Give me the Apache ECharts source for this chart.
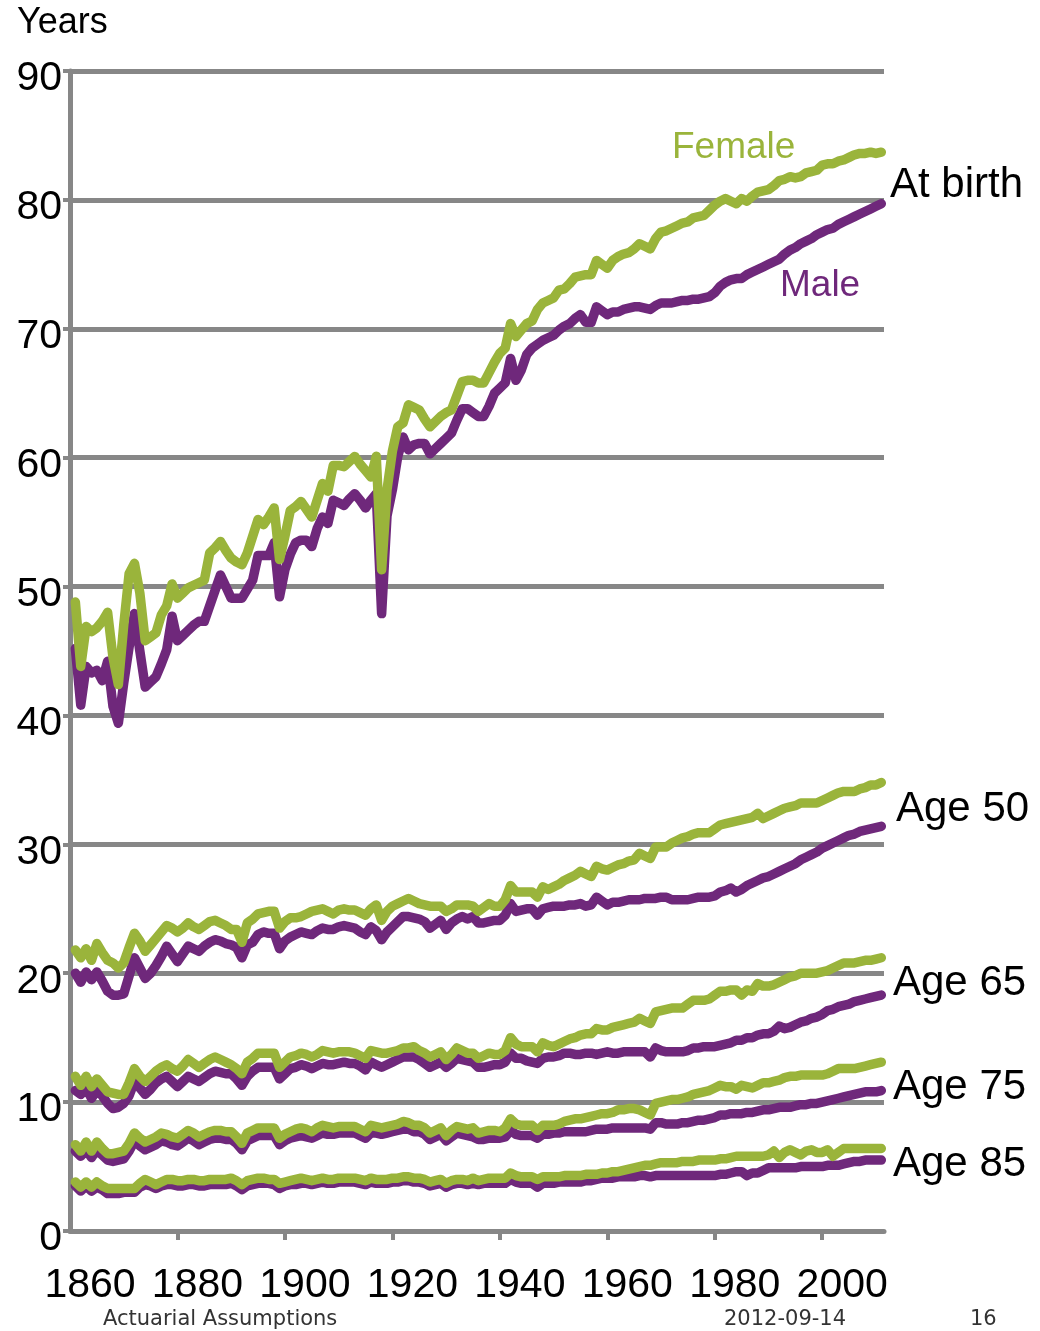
<!DOCTYPE html>
<html>
<head>
<meta charset="utf-8">
<script src="https://cdn.jsdelivr.net/npm/echarts@6/dist/echarts.min.js"></script>
<style>
  html, body { margin: 0; padding: 0; background: #ffffff; }
  #chart { width: 1040px; height: 1331px; }
</style>
</head>
<body>
<div id="chart"></div>
<script>
// Period life expectancy (remaining years), annual values 1861–2011.
const FIRST_YEAR = 1861;

const femaleAtBirth = [
  48.8, 43.8, 46.9, 46.5, 46.8, 47.3, 48.0, 44.5, 42.4, 47.0,
  51.0, 51.8, 49.5, 45.8, 46.1, 46.4, 47.8, 48.5, 50.2, 49.1,
  49.5, 49.9, 50.1, 50.3, 50.5, 52.6, 53.0, 53.5, 52.8, 52.2,
  51.9, 51.7, 52.6, 53.9, 55.2, 54.8, 55.4, 56.1, 52.1, 53.9,
  55.9, 56.2, 56.6, 56.0, 55.4, 56.7, 58.0, 57.4, 59.4, 59.4,
  59.3, 59.7, 60.1, 59.5, 59.0, 58.5, 60.1, 51.3, 57.5, 60.5,
  62.4, 62.7, 64.1, 63.9, 63.7, 63.0, 62.4, 62.8, 63.2, 63.5,
  63.7, 64.8, 65.9, 66.0, 66.0, 65.8, 65.8, 66.6, 67.4, 68.1,
  68.5, 70.4, 69.4, 69.9, 70.4, 70.6, 71.5, 72.0, 72.2, 72.4,
  73.0, 73.1, 73.5, 74.0, 74.1, 74.2, 74.2, 75.3, 75.0, 74.7,
  75.3, 75.6, 75.8, 75.9, 76.2, 76.6, 76.4, 76.2, 77.0, 77.5,
  77.6, 77.8, 78.0, 78.2, 78.3, 78.6, 78.7, 78.8, 79.2, 79.6,
  79.9, 80.1, 79.9, 79.7, 80.1, 79.9, 80.3, 80.6, 80.7, 80.8,
  81.1, 81.5, 81.6, 81.8, 81.7, 81.8, 82.1, 82.2, 82.3, 82.7,
  82.8, 82.8, 83.0, 83.1, 83.3, 83.5, 83.6, 83.6, 83.7, 83.6,
  83.7
];

const maleAtBirth = [
  45.2, 40.8, 43.8, 43.3, 43.5, 42.7, 44.2, 40.7, 39.4, 42.5,
  45.3, 47.9, 45.0, 42.2, 42.6, 43.0, 44.0, 45.1, 47.7, 45.8,
  46.2, 46.6, 47.0, 47.3, 47.3, 48.5, 49.7, 50.9, 50.0, 49.1,
  49.1, 49.1, 49.8, 50.5, 52.4, 52.4, 52.4, 53.4, 49.2, 51.3,
  52.5, 53.4, 53.6, 53.6, 53.1, 54.5, 55.4, 54.9, 56.7, 56.5,
  56.3, 56.8, 57.2, 56.7, 56.1, 56.7, 57.2, 47.9, 55.5, 57.5,
  60.1, 61.6, 60.6, 61.0, 61.1, 61.1, 60.3, 60.7, 61.1, 61.5,
  61.9, 62.9, 63.8, 63.8, 63.5, 63.2, 63.2, 64.0, 65.0, 65.4,
  65.8, 67.7, 66.0, 66.8, 68.0, 68.5, 68.8, 69.1, 69.3, 69.5,
  69.9, 70.2, 70.4, 70.8, 71.1, 70.5, 70.5, 71.7, 71.4, 71.1,
  71.3, 71.3, 71.5, 71.6, 71.7, 71.7, 71.6, 71.5, 71.8, 72.0,
  72.0, 72.0, 72.1, 72.2, 72.2, 72.3, 72.3, 72.4, 72.5, 72.8,
  73.3, 73.6, 73.8, 73.9, 73.9, 74.2, 74.4, 74.6, 74.8, 75.0,
  75.2, 75.4, 75.8, 76.1, 76.3, 76.6, 76.8, 77.0, 77.3, 77.5,
  77.7, 77.8, 78.1, 78.3, 78.5, 78.7, 78.9, 79.1, 79.3, 79.5,
  79.7
];

const femaleAge50 = [
  21.8, 21.2, 21.9, 21.0, 22.3, 21.6, 21.0, 20.8, 20.4, 20.8,
  22.0, 23.1, 22.5, 21.7, 22.2, 22.7, 23.2, 23.7, 23.5, 23.2,
  23.5, 23.9, 23.6, 23.4, 23.7, 24.0, 24.1, 23.9, 23.7, 23.4,
  23.4, 22.4, 23.9, 24.2, 24.6, 24.7, 24.8, 24.8, 23.5, 24.0,
  24.3, 24.3, 24.4, 24.6, 24.8, 24.9, 25.0, 24.8, 24.6, 24.9,
  25.0, 24.9, 24.9, 24.7, 24.5, 25.0, 25.3, 24.1, 24.8, 25.2,
  25.4, 25.6, 25.8, 25.6, 25.4, 25.3, 25.2, 25.2, 25.2, 24.8,
  25.0, 25.3, 25.3, 25.3, 25.2, 24.8, 25.1, 25.4, 25.2, 25.2,
  25.7, 26.8, 26.3, 26.3, 26.3, 26.3, 25.9, 26.7, 26.5, 26.7,
  26.9, 27.2, 27.4, 27.6, 27.9, 27.7, 27.5, 28.3, 28.1, 28.0,
  28.2, 28.4, 28.5, 28.7, 28.8, 29.3, 29.1, 28.9, 29.8, 29.8,
  29.8, 30.1, 30.3, 30.5, 30.6, 30.8, 30.9, 30.9, 30.9, 31.2,
  31.5, 31.6, 31.7, 31.8, 31.9, 32.0, 32.1, 32.4, 32.0, 32.2,
  32.4, 32.6, 32.8, 32.9, 33.0, 33.2, 33.2, 33.2, 33.2, 33.4,
  33.6, 33.8, 34.0, 34.1, 34.1, 34.1, 34.3, 34.4, 34.6, 34.6,
  34.8
];

const maleAge50 = [
  20.0, 19.3, 20.1, 19.5, 20.1, 19.4, 18.6, 18.3, 18.3, 18.4,
  19.8, 21.2, 20.4, 19.6, 20.0, 20.6, 21.3, 22.1, 21.5, 20.9,
  21.5, 22.1, 21.9, 21.7, 22.1, 22.4, 22.6, 22.5, 22.3, 22.2,
  22.0, 21.2, 22.2, 22.4, 23.0, 23.2, 23.1, 23.1, 21.9, 22.5,
  22.8, 23.0, 23.2, 23.1, 23.0, 23.3, 23.5, 23.4, 23.4, 23.6,
  23.7, 23.6, 23.5, 23.2, 23.0, 23.6, 23.3, 22.6, 23.2, 23.6,
  24.0, 24.4, 24.4, 24.3, 24.2, 24.0, 23.5, 23.8, 24.1, 23.4,
  23.9, 24.2, 24.4, 24.2, 24.4, 23.9, 23.9, 24.0, 24.1, 24.1,
  24.5, 25.4, 24.8, 24.9, 25.0, 25.0, 24.5, 25.0, 25.1, 25.2,
  25.2, 25.2, 25.3, 25.3, 25.4, 25.2, 25.3, 25.9, 25.6, 25.3,
  25.5, 25.5, 25.6, 25.7, 25.7, 25.7, 25.8, 25.8, 25.8, 25.9,
  25.9, 25.7, 25.7, 25.7, 25.7, 25.8, 25.9, 25.9, 25.9, 26.0,
  26.3, 26.4, 26.6, 26.3, 26.5, 26.8, 27.0, 27.2, 27.4, 27.5,
  27.7, 27.9, 28.1, 28.3, 28.5, 28.8, 29.0, 29.2, 29.4, 29.7,
  29.9, 30.1, 30.3, 30.5, 30.7, 30.8, 31.0, 31.1, 31.2, 31.3,
  31.4
];

const femaleAge65 = [
  12.0, 11.3, 12.0, 11.2, 11.8, 11.3, 10.8, 10.7, 10.6, 10.6,
  11.5, 12.6, 12.0, 11.6, 12.0, 12.4, 12.7, 12.9, 12.6, 12.4,
  12.8, 13.3, 13.0, 12.7, 13.0, 13.3, 13.5, 13.3, 13.1, 12.9,
  12.6, 12.2, 13.1, 13.4, 13.8, 13.8, 13.8, 13.8, 12.7, 13.1,
  13.5, 13.6, 13.8, 13.7, 13.5, 13.7, 14.0, 13.9, 13.8, 13.9,
  13.9, 13.9, 13.8, 13.6, 13.4, 14.0, 13.9, 13.8, 13.8, 13.9,
  14.0, 14.2, 14.2, 14.3, 14.0, 13.8, 13.5, 13.7, 13.9, 13.3,
  13.7, 14.2, 14.0, 13.8, 13.8, 13.4, 13.6, 13.8, 13.7, 13.7,
  14.0, 15.0, 14.5, 14.3, 14.3, 14.3, 13.9, 14.6, 14.4, 14.3,
  14.5, 14.7, 14.9, 15.0, 15.2, 15.3, 15.3, 15.7, 15.6, 15.6,
  15.8, 15.9, 16.0, 16.1, 16.2, 16.5, 16.3, 16.1, 17.0, 17.1,
  17.2, 17.3, 17.3, 17.3, 17.6, 17.9, 17.9, 17.9, 18.0, 18.3,
  18.6, 18.6, 18.7, 18.7, 18.3, 18.7, 18.6, 19.2, 19.0, 19.0,
  19.1, 19.3, 19.5, 19.7, 19.8, 20.0, 20.0, 20.0, 20.0, 20.1,
  20.2, 20.4, 20.6, 20.8, 20.8, 20.8, 20.9, 21.0, 21.0, 21.1,
  21.2
];

const maleAge65 = [
  10.9, 10.6, 11.1, 10.3, 10.9, 10.5, 9.9, 9.5, 9.6, 9.9,
  10.5, 11.6, 11.1, 10.6, 11.0, 11.5, 11.8, 12.0, 11.6, 11.2,
  11.6, 12.0, 11.8, 11.6, 11.9, 12.2, 12.4, 12.3, 12.2, 12.2,
  11.8, 11.3, 12.0, 12.4, 12.7, 12.7, 12.7, 12.7, 11.8, 12.2,
  12.6, 12.7, 12.9, 12.8, 12.6, 12.8, 13.0, 12.9, 12.9, 13.0,
  13.1, 13.0, 13.0, 12.8, 12.5, 13.1, 12.9, 12.7, 12.9, 13.1,
  13.3, 13.5, 13.5, 13.5, 13.3, 13.0, 12.7, 12.9, 13.1, 12.7,
  13.0, 13.4, 13.3, 13.2, 13.1, 12.7, 12.7, 12.8, 12.9, 12.9,
  13.1, 13.8, 13.4, 13.4, 13.2, 13.1, 13.0, 13.4, 13.5, 13.5,
  13.6, 13.8, 13.8, 13.7, 13.7, 13.8, 13.8, 13.7, 13.8, 13.9,
  13.8, 13.8, 13.9, 13.9, 13.9, 13.9, 13.9, 13.5, 14.2, 14.0,
  13.9, 13.9, 13.9, 13.9, 14.0, 14.2, 14.2, 14.3, 14.3, 14.3,
  14.4, 14.5, 14.6, 14.8, 14.8, 15.0, 15.0, 15.2, 15.3, 15.3,
  15.5, 15.9, 15.7, 15.8, 16.0, 16.2, 16.3, 16.5, 16.6, 16.8,
  17.1, 17.2, 17.4, 17.5, 17.6, 17.8, 17.9, 18.0, 18.1, 18.2,
  18.3
];

const femaleAge75 = [
  6.7, 6.2, 6.9, 6.2, 6.9, 6.4, 6.0, 6.0, 6.1, 6.2,
  6.8, 7.6, 7.2, 6.9, 7.1, 7.3, 7.6, 7.5, 7.3, 7.2,
  7.5, 7.8, 7.6, 7.3, 7.5, 7.7, 7.8, 7.8, 7.7, 7.7,
  7.3, 6.8, 7.6, 7.8, 8.0, 8.0, 8.0, 8.0, 7.2, 7.5,
  7.7, 7.9, 8.0, 7.9, 7.7, 8.0, 8.2, 8.1, 8.0, 8.1,
  8.1, 8.1, 8.1, 7.9, 7.7, 8.2, 8.1, 8.0, 8.1, 8.2,
  8.3, 8.5, 8.4, 8.2, 8.2, 8.0, 7.6, 7.8, 8.0, 7.4,
  7.8, 8.1, 8.0, 7.9, 8.0, 7.6, 7.7, 7.8, 7.8, 7.7,
  8.0, 8.7, 8.3, 8.2, 8.2, 8.2, 7.8, 8.2, 8.2, 8.2,
  8.3, 8.5, 8.6, 8.7, 8.7, 8.8, 8.9, 9.0, 9.1, 9.1,
  9.2, 9.4, 9.4, 9.5, 9.5, 9.4, 9.2, 9.0, 9.9, 10.0,
  10.1, 10.2, 10.2, 10.3, 10.4, 10.6, 10.7, 10.8, 10.9, 11.1,
  11.3, 11.2, 11.2, 11.0, 11.3, 11.2, 11.1, 11.3, 11.5, 11.5,
  11.6, 11.7, 11.9, 12.0, 12.0, 12.1, 12.1, 12.1, 12.1, 12.1,
  12.2, 12.4, 12.6, 12.6, 12.6, 12.6, 12.7, 12.8, 12.9, 13.0,
  13.1
];

const maleAge75 = [
  6.2, 5.8, 6.3, 5.7, 6.3, 5.9, 5.5, 5.4, 5.5, 5.6,
  6.2, 7.0, 6.6, 6.3, 6.5, 6.7, 7.0, 6.9, 6.7, 6.6,
  6.9, 7.2, 7.0, 6.7, 6.9, 7.1, 7.2, 7.2, 7.1, 7.1,
  6.8, 6.3, 7.0, 7.2, 7.4, 7.4, 7.4, 7.4, 6.7, 7.0,
  7.2, 7.3, 7.4, 7.3, 7.2, 7.4, 7.6, 7.5, 7.5, 7.6,
  7.6, 7.6, 7.6, 7.4, 7.2, 7.6, 7.6, 7.5, 7.6, 7.7,
  7.8, 7.9, 7.9, 7.7, 7.7, 7.5, 7.1, 7.3, 7.5, 7.0,
  7.3, 7.6, 7.5, 7.4, 7.3, 7.1, 7.1, 7.2, 7.2, 7.2,
  7.3, 7.8, 7.5, 7.4, 7.4, 7.4, 7.2, 7.5, 7.5, 7.6,
  7.6, 7.7, 7.7, 7.7, 7.7, 7.7, 7.8, 7.9, 7.9, 7.9,
  8.0, 8.0, 8.0, 8.0, 8.0, 8.0, 8.0, 7.9, 8.4, 8.4,
  8.3, 8.3, 8.3, 8.4, 8.4, 8.5, 8.6, 8.6, 8.7, 8.8,
  9.0, 9.0, 9.1, 9.1, 9.1, 9.2, 9.2, 9.3, 9.4, 9.4,
  9.5, 9.6, 9.6, 9.6, 9.7, 9.8, 9.8, 9.9, 9.9, 10.0,
  10.1, 10.2, 10.3, 10.4, 10.5, 10.6, 10.7, 10.8, 10.8, 10.8,
  10.9
];

const femaleAge85 = [
  3.8, 3.4, 3.8, 3.4, 3.8, 3.5, 3.3, 3.3, 3.3, 3.3,
  3.3, 3.3, 3.7, 4.0, 3.8, 3.6, 3.8, 4.0, 4.0, 3.9,
  3.9, 4.0, 4.0, 3.9, 3.9, 4.0, 4.0, 4.0, 4.0, 4.1,
  3.9, 3.6, 3.9, 4.0, 4.1, 4.1, 4.0, 4.0, 3.7, 3.8,
  3.9, 4.0, 4.1, 4.0, 3.9, 4.0, 4.1, 4.0, 4.0, 4.1,
  4.1, 4.1, 4.1, 4.0, 3.9, 4.1, 4.0, 4.0, 4.0, 4.1,
  4.1, 4.2, 4.2, 4.1, 4.1, 4.0, 3.8, 3.9, 4.0, 3.7,
  3.9, 4.0, 4.0, 3.9, 4.1, 3.9, 4.0, 4.1, 4.1, 4.1,
  4.1, 4.5, 4.3, 4.2, 4.2, 4.2, 4.0, 4.2, 4.2, 4.2,
  4.2, 4.3, 4.3, 4.3, 4.3, 4.4, 4.4, 4.4, 4.5, 4.5,
  4.6, 4.6, 4.7, 4.8, 4.9, 5.0, 5.1, 5.1, 5.2, 5.3,
  5.3, 5.3, 5.3, 5.4, 5.4, 5.4, 5.5, 5.5, 5.5, 5.5,
  5.6, 5.6, 5.7, 5.8, 5.8, 5.8, 5.8, 5.8, 5.8, 5.9,
  6.2, 5.7, 6.1, 6.3, 6.1, 5.9, 6.2, 6.3, 6.1, 6.1,
  6.3, 5.8, 6.1, 6.4, 6.4, 6.4, 6.4, 6.4, 6.4, 6.4,
  6.4
];

const maleAge85 = [
  3.5, 3.1, 3.5, 3.1, 3.4, 3.2, 2.9, 2.9, 2.9, 3.0,
  3.0, 3.0, 3.4, 3.6, 3.5, 3.3, 3.5, 3.6, 3.6, 3.5,
  3.5, 3.6, 3.6, 3.5, 3.5, 3.6, 3.6, 3.6, 3.6, 3.7,
  3.5, 3.2, 3.5, 3.6, 3.7, 3.7, 3.7, 3.6, 3.3, 3.5,
  3.6, 3.6, 3.7, 3.7, 3.6, 3.7, 3.8, 3.7, 3.7, 3.8,
  3.8, 3.8, 3.8, 3.7, 3.6, 3.8, 3.7, 3.7, 3.7, 3.8,
  3.8, 3.9, 3.9, 3.8, 3.8, 3.7, 3.5, 3.6, 3.7, 3.4,
  3.6, 3.7, 3.7, 3.6, 3.7, 3.6, 3.7, 3.7, 3.7, 3.7,
  3.7, 4.0, 3.8, 3.7, 3.7, 3.7, 3.4, 3.7, 3.7, 3.7,
  3.8, 3.8, 3.8, 3.8, 3.8, 3.9, 3.9, 4.0, 4.1, 4.1,
  4.1, 4.2, 4.2, 4.2, 4.2, 4.3, 4.3, 4.2, 4.3, 4.3,
  4.3, 4.3, 4.3, 4.3, 4.3, 4.3, 4.3, 4.3, 4.3, 4.3,
  4.4, 4.4, 4.5, 4.6, 4.6, 4.3, 4.5, 4.5, 4.7, 4.9,
  4.9, 4.9, 4.9, 4.9, 4.9, 5.0, 5.0, 5.0, 5.0, 5.0,
  5.1, 5.1, 5.1, 5.2, 5.3, 5.4, 5.4, 5.5, 5.5, 5.5,
  5.5
];

// Axis ticks and labels
const xTickYears = [1880, 1900, 1920, 1940, 1960, 1980, 2000];
const xLabelYears = [1860, 1880, 1900, 1920, 1940, 1960, 1980, 2000];

const GREEN = '#9AB43B';
const PURPLE = '#6F287B';
const GRID_GREY = '#878787';
const FONT = '"Liberation Sans", Arial, Helvetica, sans-serif';

function toPoints(values) {
  return values.map((v, i) => [FIRST_YEAR + i, v]);
}

function lineSeries(name, values, color, z) {
  return {
    name: name,
    type: 'line',
    data: toPoints(values),
    symbol: 'none',
    showSymbol: false,
    silent: true,
    z: z,
    lineStyle: { color: color, width: 9.5, cap: 'round', join: 'round' }
  };
}

// Male lines underneath, female lines on top
const seriesList = [
  lineSeries('Male at birth', maleAtBirth, PURPLE, 2),
  lineSeries('Male age 50', maleAge50, PURPLE, 2),
  lineSeries('Male age 65', maleAge65, PURPLE, 2),
  lineSeries('Male age 75', maleAge75, PURPLE, 2),
  lineSeries('Male age 85', maleAge85, PURPLE, 2),
  lineSeries('Female at birth', femaleAtBirth, GREEN, 3),
  lineSeries('Female age 50', femaleAge50, GREEN, 3),
  lineSeries('Female age 65', femaleAge65, GREEN, 3),
  lineSeries('Female age 75', femaleAge75, GREEN, 3),
  lineSeries('Female age 85', femaleAge85, GREEN, 3)
];

function label(text, x, y, size, color, family) {
  return {
    type: 'text',
    x: x,
    y: y,
    silent: true,
    style: {
      text: text,
      fill: color,
      font: size + 'px ' + (family || FONT),
      verticalAlign: 'middle',
      align: 'left'
    }
  };
}

const chart = echarts.init(document.getElementById('chart'), null, { renderer: 'canvas' });

chart.setOption({
  animation: false,
  backgroundColor: '#ffffff',
  grid: { left: 70, right: 156, top: 71, bottom: 100, containLabel: false },
  xAxis: {
    type: 'value',
    min: 1860,
    max: 2011.5,
    axisLine: { show: true, onZero: true, lineStyle: { color: GRID_GREY, width: 5 } },
    axisTick: {
      show: true,
      customValues: xTickYears,
      length: 9,
      lineStyle: { color: GRID_GREY, width: 4 }
    },
    axisLabel: {
      customValues: xLabelYears,
      formatter: (v) => String(Math.round(v)),
      fontFamily: FONT,
      fontSize: 41,
      color: '#000000',
      margin: 34,
      padding: [0, 0, 0, 40]
    },
    splitLine: { show: false }
  },
  yAxis: {
    type: 'value',
    min: 0,
    max: 90,
    interval: 10,
    axisLine: { show: true, lineStyle: { color: GRID_GREY, width: 5 } },
    axisTick: { show: true, length: 7, lineStyle: { color: GRID_GREY, width: 4 } },
    axisLabel: {
      fontFamily: FONT,
      fontSize: 41,
      color: '#000000',
      margin: 8,
      verticalAlign: 'top',
      lineHeight: 16
    },
    splitLine: { show: true, lineStyle: { color: GRID_GREY, width: 5 } }
  },
  series: seriesList,
  graphic: [
    label('Years', 17, 23, 36, '#000000'),
    label('Female', 672, 148, 37, GREEN),
    label('At birth', 890, 185, 42, '#000000'),
    label('Male', 780, 286, 37, PURPLE),
    label('Age 50', 896, 809, 42, '#000000'),
    label('Age 65', 893, 983, 42, '#000000'),
    label('Age 75', 893, 1087, 42, '#000000'),
    label('Age 85', 893, 1164, 42, '#000000'),
    label('Actuarial Assumptions', 103, 1320, 21, '#333333', '"DejaVu Sans", Verdana, sans-serif'),
    label('2012-09-14', 724, 1320, 21, '#333333', '"DejaVu Sans", Verdana, sans-serif'),
    label('16', 970, 1320, 21, '#333333', '"DejaVu Sans", Verdana, sans-serif')
  ]
});
</script>
</body>
</html>
